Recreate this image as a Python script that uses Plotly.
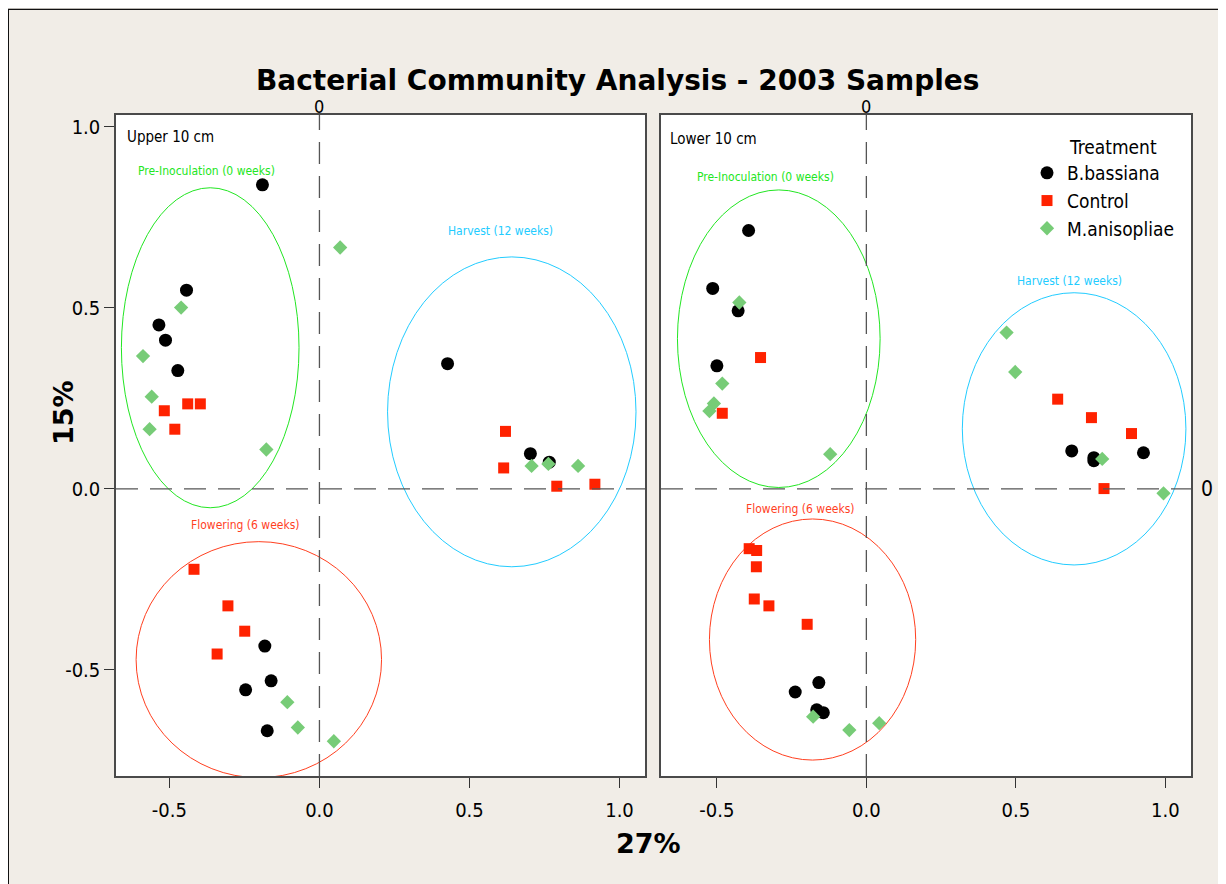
import plotly.graph_objects as go

W, H = 1226, 884

# ---------------- data ----------------
treatments = ["B.bassiana", "Control", "M.anisopliae"]

# Upper 10 cm
upper_bb_x = [-0.19, -0.443, -0.535, -0.513, -0.472, 0.427, 0.703, 0.766, -0.182, -0.161, -0.246, -0.174]
upper_bb_y = [0.84, 0.549, 0.453, 0.411, 0.327, 0.346, 0.0975, 0.074, -0.434, -0.53, -0.555, -0.668]
upper_ct_x = [-0.439, -0.397, -0.517, -0.482, 0.62, 0.614, 0.791, 0.918, -0.418, -0.305, -0.249, -0.341]
upper_ct_y = [0.235, 0.235, 0.216, 0.165, 0.159, 0.058, 0.0075, 0.013, -0.222, -0.323, -0.393, -0.456]
upper_ma_x = [0.069, -0.461, -0.588, -0.559, -0.566, -0.177, 0.707, 0.763, 0.862, -0.107, -0.072, 0.048]
upper_ma_y = [0.667, 0.501, 0.367, 0.255, 0.165, 0.109, 0.0635, 0.069, 0.0635, -0.589, -0.659, -0.697]

# Lower 10 cm
lower_bb_x = [-0.394, -0.514, -0.429, -0.5, 0.687, 0.761, 0.761, 0.927, -0.159, -0.238, -0.166, -0.144]
lower_bb_y = [0.714, 0.554, 0.492, 0.34, 0.105, 0.0865, 0.078, 0.1, -0.535, -0.561, -0.61, -0.618]
lower_ct_x = [-0.354, -0.482, 0.64, 0.753, 0.887, 0.795, -0.392, -0.367, -0.368, -0.375, -0.326, -0.198]
lower_ct_y = [0.363, 0.209, 0.248, 0.197, 0.153, 0.001, -0.165, -0.17, -0.215, -0.304, -0.323, -0.374]
lower_ma_x = [-0.425, -0.482, -0.51, -0.525, -0.121, 0.469, 0.498, 0.789, 0.994, -0.178, -0.057, 0.043]
lower_ma_y = [0.515, 0.291, 0.236, 0.215, 0.096, 0.432, 0.323, 0.083, -0.012, -0.629, -0.666, -0.647]

# group ellipses: centre x, centre y, radius x, radius y, label x, label y
group_names = ["Pre-Inoculation (0 weeks)", "Flowering (6 weeks)", "Harvest (12 weeks)"]
upper_ell_cx = [-0.364, -0.202, 0.641]
upper_ell_cy = [0.39, -0.4716, 0.213]
upper_ell_rx = [0.296, 0.409, 0.414]
upper_ell_ry = [0.442, 0.326, 0.428]
upper_lab_x = [-0.376, -0.248, 0.602]
upper_lab_y = [0.877, -0.099, 0.713]

lower_ell_cx = [-0.293, -0.18, 0.695]
lower_ell_cy = [0.415, -0.416, 0.166]
lower_ell_rx = [0.339, 0.345, 0.374]
lower_ell_ry = [0.411, 0.333, 0.376]
lower_lab_x = [-0.339, -0.22, 0.681]
lower_lab_y = [0.863, -0.056, 0.575]

tick_vals = [-0.5, 0.0, 0.5, 1.0]
tick_text = ["-0.5", "0.0", "0.5", "1.0"]

# ---------------- styles ----------------
FONT = "DejaVu Sans Condensed, DejaVu Sans, sans-serif"
BFONT = "DejaVu Sans, sans-serif"
BG = "#f1ede7"
marker_styles = {
    "B.bassiana": dict(symbol="circle", size=13, color="#000000"),
    "Control": dict(symbol="square", size=11, color="#ff2200"),
    "M.anisopliae": dict(symbol="diamond", size=11, color="#77cc77"),
}
group_colors = ["#22e622", "#ff3f1f", "#22ccff"]

OFF = 8  # page body margin


def px_x(p):
    return (p - OFF) / W


def px_y(p):
    return 1 - (p - OFF) / H


fig = go.Figure()

panels = [
    ("x", "y", [upper_bb_x, upper_ct_x, upper_ma_x], [upper_bb_y, upper_ct_y, upper_ma_y], True),
    ("x2", "y2", [lower_bb_x, lower_ct_x, lower_ma_x], [lower_bb_y, lower_ct_y, lower_ma_y], False),
]
for xa, ya, xs, ys, show in panels:
    for name, xv, yv in zip(treatments, xs, ys):
        st = marker_styles[name]
        fig.add_trace(go.Scatter(
            x=xv, y=yv, mode="markers", name=name,
            showlegend=show, xaxis=xa, yaxis=ya,
            marker=dict(symbol=st["symbol"], size=st["size"], color=st["color"], line=dict(width=0)),
        ))

shapes = []
annotations = []

for xr, yr, cx, cy, rx, ry, lx, ly in [
    ("x", "y", upper_ell_cx, upper_ell_cy, upper_ell_rx, upper_ell_ry, upper_lab_x, upper_lab_y),
    ("x2", "y2", lower_ell_cx, lower_ell_cy, lower_ell_rx, lower_ell_ry, lower_lab_x, lower_lab_y),
]:
    for i, g in enumerate(group_names):
        shapes.append(dict(type="circle", xref=xr, yref=yr,
                           x0=cx[i] - rx[i], x1=cx[i] + rx[i],
                           y0=cy[i] - ry[i], y1=cy[i] + ry[i],
                           line=dict(color=group_colors[i], width=1), layer="below"))
        annotations.append(dict(text=g, x=lx[i], y=ly[i], xref=xr, yref=yr,
                                xanchor="center", yanchor="middle", showarrow=False,
                                font=dict(family=FONT, size=12, color=group_colors[i])))

x_ranges = {"x": [-0.678, 1.085], "x2": [-0.687, 1.086]}
y_range = [-0.793, 1.033]

for xr, yr in [("x", "y"), ("x2", "y2")]:
    shapes.append(dict(type="line", xref=xr, yref=yr, x0=0, x1=0, y0=y_range[0], y1=y_range[1],
                       line=dict(color="#555555", width=1.3, dash="22px,12px")))
    shapes.append(dict(type="line", xref=xr, yref=yr, x0=x_ranges[xr][0], x1=x_ranges[xr][1], y0=0, y1=0,
                       line=dict(color="#555555", width=1.3, dash="22px,12px")))

# outer black border (page margin provides the white strip)
shapes.append(dict(type="line", xref="paper", yref="paper", x0=0.4 / W, x1=0.4 / W, y0=-0.01, y1=1 - 1 / H,
                   line=dict(color="#111111", width=1.2)))
shapes.append(dict(type="line", xref="paper", yref="paper", x0=0, x1=1.01, y0=1 - 1.4 / H, y1=1 - 1.4 / H,
                   line=dict(color="#111111", width=1.2)))


def ann(text, x, y, size, family=FONT, xanchor="center", yanchor="middle", xref="paper", yref="paper", **kw):
    return dict(text=text, x=x, y=y, xref=xref, yref=yref, showarrow=False,
                xanchor=xanchor, yanchor=yanchor,
                font=dict(family=family, size=size, color="black"), **kw)


annotations += [
    ann("<b>Bacterial Community Analysis - 2003 Samples</b>", px_x(617), px_y(80), 28, family=BFONT),
    ann("<b>27%</b>", px_x(648), px_y(843), 27, family=BFONT),
    ann("<b>15%</b>", px_x(64), px_y(413), 27, family=BFONT, textangle=-90),
    ann("0", 0, px_y(106.5), 18, xref="x"),
    ann("0", 0, px_y(106.5), 18, xref="x2"),
    ann("0", px_x(1207), 0, 21, yref="y2"),
    ann("Upper 10 cm", px_x(125), px_y(137), 15, xanchor="left"),
    ann("Lower 10 cm", px_x(668), px_y(139), 15, xanchor="left"),
    ann("Treatment", px_x(1067), px_y(147), 19, xanchor="left"),
]

axis_common = dict(showgrid=False, zeroline=False, showline=True, mirror=True,
                   linecolor="#4a4a4a", linewidth=1.5,
                   tickfont=dict(family=FONT, size=20, color="black"))

ydom = [px_y(776), px_y(115)]
fig.update_layout(
    width=W, height=H,
    margin=dict(l=0, r=0, t=0, b=0),
    paper_bgcolor=BG, plot_bgcolor="white",
    showlegend=True,
    legend=dict(x=px_x(1027), y=px_y(154), xanchor="left", yanchor="top",
                bgcolor="rgba(0,0,0,0)", font=dict(family=FONT, size=19, color="black"),
                tracegroupgap=0),
    xaxis=dict(domain=[px_x(116), px_x(645)], range=x_ranges["x"], anchor="y",
               tickvals=tick_vals, ticktext=tick_text, ticks="outside", ticklen=10,
               tickcolor="#333333", ticklabelstandoff=5, **axis_common),
    yaxis=dict(domain=ydom, range=y_range, anchor="x",
               tickvals=tick_vals, ticktext=tick_text, ticks="outside", ticklen=10,
               tickcolor="#333333", ticklabelstandoff=0, **axis_common),
    xaxis2=dict(domain=[px_x(661), px_x(1191)], range=x_ranges["x2"], anchor="y2",
                tickvals=tick_vals, ticktext=tick_text, ticks="outside", ticklen=10,
                tickcolor="#333333", ticklabelstandoff=5, **axis_common),
    yaxis2=dict(domain=ydom, range=y_range, anchor="x2", showticklabels=False, ticks="",
                **axis_common),
    shapes=shapes,
    annotations=annotations,
)

fig.write_html("out.html")
